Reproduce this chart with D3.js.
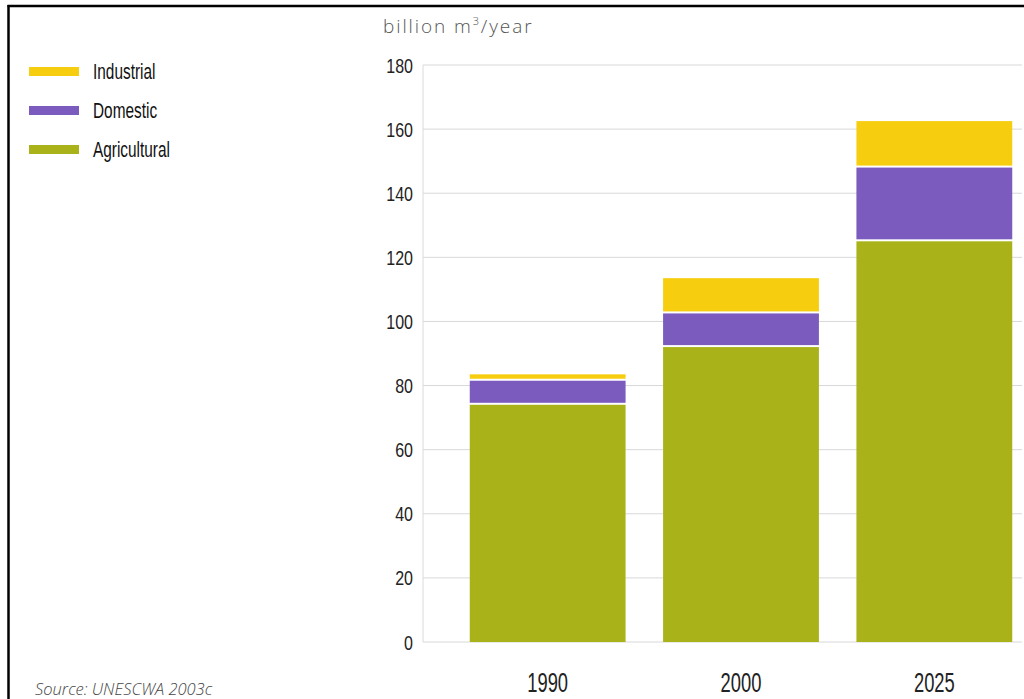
<!DOCTYPE html>
<html>
<head>
<meta charset="utf-8">
<script src="https://cdn.jsdelivr.net/npm/d3@7"></script>
<style>
  html, body { margin: 0; padding: 0; background: #fff; }
  svg { display: block; }
  .cond { font-family: "Liberation Sans", Arial, sans-serif; }
</style>
</head>
<body>
<svg id="chart" width="1024" height="699"></svg>
<script>
// Water withdrawal by sector, billion m3 per year
const years = ["1990", "2000", "2025"];
const agricultural = [74, 92, 125];
const domestic = [7.5, 10.5, 23];
const industrial = [2, 11, 14.5];
const sectorNames = ["Agricultural", "Domestic", "Industrial"];
const sectorColors = ["#a9b319", "#7b5bbd", "#f6ce0f"];
const yTicks = [0, 20, 40, 60, 80, 100, 120, 140, 160, 180];

const rows = years.map((y, i) => ({
  year: y,
  Agricultural: agricultural[i],
  Domestic: domestic[i],
  Industrial: industrial[i]
}));

const svg = d3.select("#chart");

// page frame
svg.append("line").attr("x1", 7.5).attr("x2", 1024).attr("y1", 6).attr("y2", 6)
  .attr("stroke", "#000").attr("stroke-width", 2.5);
svg.append("line").attr("x1", 8.5).attr("x2", 8.5).attr("y1", 5).attr("y2", 699)
  .attr("stroke", "#000").attr("stroke-width", 2.5);

const x = d3.scaleBand().domain(years).range([451, 1031])
  .paddingInner(0.194).paddingOuter(0.097);
const y = d3.scaleLinear().domain([0, 180]).range([642, 65]);

const axisX = 423;

// horizontal gridlines
svg.append("g").selectAll("line").data(yTicks).join("line")
  .attr("x1", axisX).attr("x2", 1022)
  .attr("y1", d => y(d)).attr("y2", d => y(d))
  .attr("stroke", "#d8d8d8").attr("stroke-width", 1);

// vertical axis line
svg.append("line").attr("x1", axisX).attr("x2", axisX)
  .attr("y1", y(180)).attr("y2", y(0))
  .attr("stroke", "#dadada").attr("stroke-width", 1);

// y tick labels (horizontally condensed)
const yAxis = d3.axisLeft(y).tickValues(yTicks).tickSize(0).tickPadding(0);
const ya = svg.append("g").attr("transform", `translate(413,0)`).call(yAxis);
ya.select(".domain").remove();
ya.selectAll("text")
  .attr("class", "cond")
  .attr("font-size", 20)
  .attr("fill", "#222")
  .attr("dy", "0.35em")
  .attr("transform", "scale(0.8,1)");

// stacked bars
const stack = d3.stack().keys(sectorNames)(rows);
const color = d3.scaleOrdinal().domain(sectorNames).range(sectorColors);

svg.append("g").selectAll("g").data(stack).join("g")
  .attr("fill", d => color(d.key))
  .selectAll("rect").data(d => d).join("rect")
  .attr("x", d => x(d.data.year))
  .attr("width", x.bandwidth())
  .attr("y", d => y(d[1]))
  .attr("height", d => y(d[0]) - y(d[1]) - (d[0] > 0 ? 2 : 0));

// x labels
const xAxis = d3.axisBottom(x).tickSize(0).tickPadding(0);
const xa = svg.append("g").attr("transform", "translate(0,692)").call(xAxis);
xa.select(".domain").remove();
xa.selectAll("text")
  .attr("class", "cond")
  .attr("font-size", 27)
  .attr("fill", "#222")
  .attr("dy", "0")
  .attr("y", 0)
  .attr("transform", "scale(0.68,1)");

// unit label
const unit = svg.append("text").attr("x", 383).attr("y", 33)
  .attr("font-family", "'Open Sans', sans-serif").attr("font-weight", 300)
  .attr("font-size", 19).attr("letter-spacing", 1.9).attr("fill", "#555");
unit.append("tspan").text("billion m");
unit.append("tspan").attr("font-size", 11).attr("dy", -8).text("3");
unit.append("tspan").attr("dy", 8).text("/year");

// legend
const legendItems = ["Industrial", "Domestic", "Agricultural"];
const legendY = [71, 110, 149];
const lg = svg.append("g").selectAll("g").data(legendItems).join("g")
  .attr("transform", (d, i) => `translate(0,${legendY[i]})`);
lg.append("rect").attr("x", 29).attr("y", -4).attr("width", 50).attr("height", 9)
  .attr("fill", d => color(d));
lg.append("text").attr("class", "cond")
  .attr("transform", "translate(93,0) scale(0.7,1)")
  .attr("x", 0).attr("y", 0).attr("dy", "0.35em")
  .attr("font-size", 22).attr("fill", "#111").text(d => d);

// source note
svg.append("text").attr("x", 35).attr("y", 695)
  .attr("font-family", "'Open Sans', sans-serif").attr("font-style", "italic").attr("font-weight", 300)
  .attr("font-size", 16.5).attr("fill", "#444")
  .text("Source: UNESCWA 2003c");
</script>
</body>
</html>
